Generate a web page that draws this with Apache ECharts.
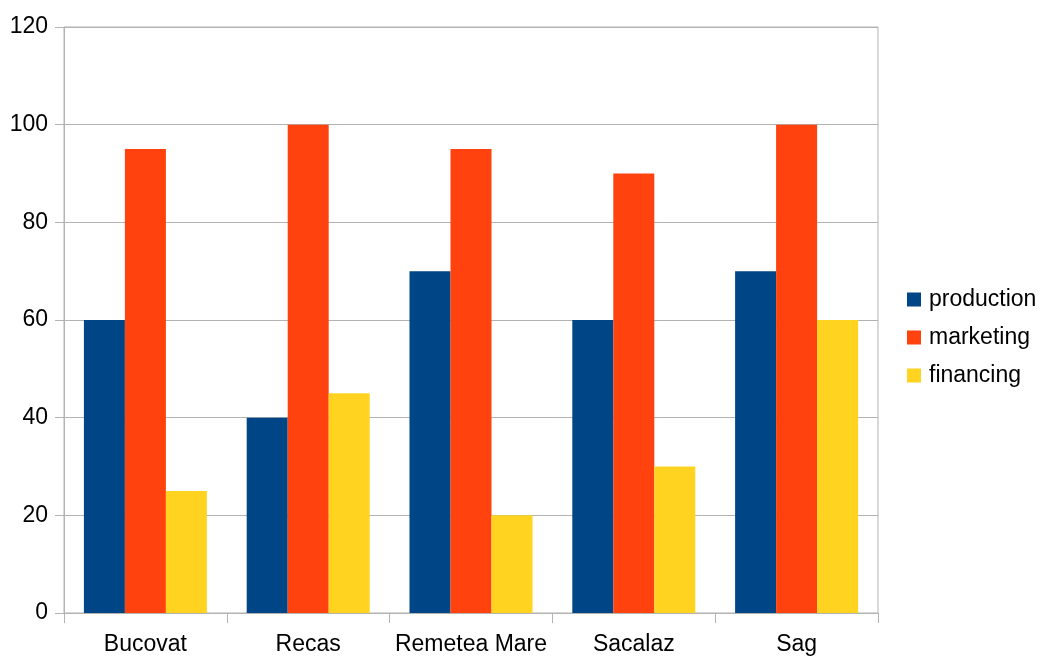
<!DOCTYPE html>
<html>
<head>
<meta charset="utf-8">
<script src="https://cdn.jsdelivr.net/npm/echarts@6/dist/echarts.min.js"></script>
<style>
  html, body { margin: 0; padding: 0; background: #fff; }
  #chart { width: 1040px; height: 660px; }
</style>
</head>
<body>
<div id="chart"></div>
<script>
// categories and values
const categories = ['Bucovat', 'Recas', 'Remetea Mare', 'Sacalaz', 'Sag']
const production = [60, 40, 70, 60, 70]
const marketing = [95, 100, 95, 90, 100]
const financing = [25, 45, 20, 30, 60]

const chart = echarts.init(document.getElementById('chart'))
const font = '"Liberation Sans", Arial, sans-serif'

chart.setOption({
  animation: false,
  textStyle: { fontFamily: font },
  grid: {
    left: 64,
    right: 162,
    top: 27,
    bottom: 47,
    show: true,
    borderColor: '#b3b3b3',
    borderWidth: 1
  },
  legend: {
    orient: 'vertical',
    left: 902,
    top: 283,
    itemWidth: 14,
    itemHeight: 14,
    itemGap: 15,
    icon: 'rect',
    textStyle: { fontSize: 23, color: '#000', fontFamily: font, padding: [0, 0, 0, 3] },
    data: ['production', 'marketing', 'financing']
  },
  xAxis: {
    type: 'category',
    data: categories,
    axisLine: { lineStyle: { color: '#b3b3b3' } },
    axisTick: { show: true, length: 10, lineStyle: { color: '#b3b3b3' } },
    axisLabel: { color: '#000', fontSize: 23, margin: 20, interval: 0, fontFamily: font }
  },
  yAxis: {
    type: 'value',
    min: 0,
    max: 120,
    interval: 20,
    axisLine: { show: true, lineStyle: { color: '#b3b3b3' } },
    axisTick: { show: true, length: 9, lineStyle: { color: '#b3b3b3' } },
    axisLabel: { color: '#000', fontSize: 23, margin: 16, fontFamily: font },
    splitLine: { lineStyle: { color: '#b3b3b3' } }
  },
  series: [
    {
      name: 'production',
      type: 'bar',
      data: production,
      barWidth: 41,
      barGap: '0%',
      itemStyle: { color: '#004586' }
    },
    {
      name: 'marketing',
      type: 'bar',
      data: marketing,
      barWidth: 41,
      barGap: '0%',
      itemStyle: { color: '#ff420e' }
    },
    {
      name: 'financing',
      type: 'bar',
      data: financing,
      barWidth: 41,
      barGap: '0%',
      itemStyle: { color: '#ffd320' }
    }
  ]
})
</script>
</body>
</html>
